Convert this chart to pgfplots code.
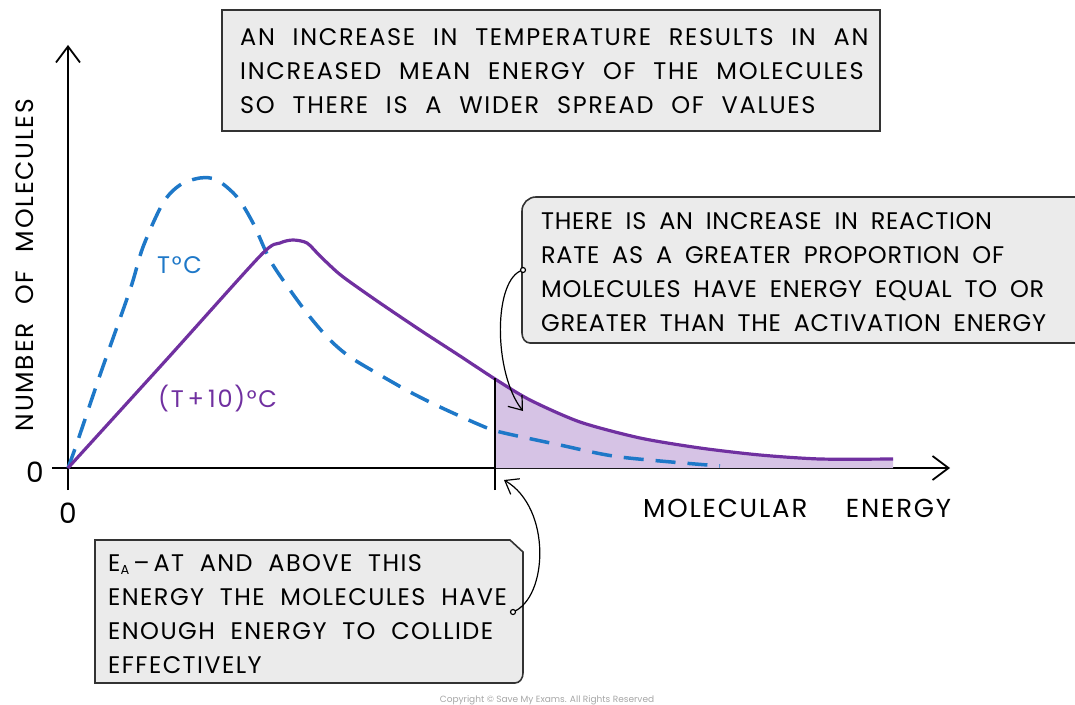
\documentclass[border=0pt]{standalone}
\usepackage{pgfplots}
\pgfplotsset{compat=1.18}
\usepackage{fontspec}
\setmainfont{Poppins}[WordSpace=2.2, LetterSpace=7]
\newfontfamily\rfont{Poppins}[WordSpace=1.8, LetterSpace=3]
\newfontfamily\bfont{Poppins}[WordSpace=2.0, LetterSpace=6]
\newfontfamily\plainfont{Poppins}
\usetikzlibrary{arrows.meta}
\definecolor{tblue}{HTML}{1E78C8}
\definecolor{tpurple}{HTML}{7030A0}
\definecolor{pfill}{HTML}{D6C3E5}
\definecolor{boxfill}{HTML}{EBEBEB}
\definecolor{boxdraw}{HTML}{333333}
\newcommand{\txt}{\fontsize{24}{34}\selectfont}
\newcommand{\rtxt}{\rfont\fontsize{24}{34}\selectfont}
\newcommand{\btxt}{\bfont\fontsize{24}{34}\selectfont}
\begin{document}
\begin{tikzpicture}
\begin{axis}[name=ax, x=1pt, y=1pt, xmin=-16, xmax=882, ymin=-22, ymax=423,
  axis lines=middle, xtick=\empty, ytick=\empty, clip=false,
  axis line style={line width=1.8pt, black, -{Straight Barb[length=16pt,width=24pt,line width=1.8pt]}}]
% bounding coordinates (full image)
\coordinate (TL) at (axis cs:-68,468);
\coordinate (BR) at (axis cs:1007,-236);
% shaded area beyond activation energy
\addplot[draw=none, fill=pfill, smooth, tension=0.5] coordinates {
 (427,89) (462,68) (512,46) (572,30) (632,20) (692,13) (752,9) (825,9)} \closedcycle;
% T curve (dashed blue)
\addplot[tblue, line width=3.5pt, smooth, tension=0.5, dash pattern=on 20pt off 12pt] coordinates {
 (0,0) (9,25) (32,93) (62,178) (75,221) (95,265) (112,283) (132,290) (149,288) (169,271)
 (185,245) (202,208) (222,178) (242,151) (262,128) (282,111) (312,93) (342,76) (372,61)
 (412,43) (432,36) (492,23) (552,11) (652,2)};
% (T+10) curve (solid purple)
\addplot[tpurple, line width=3.2pt, smooth, tension=0.45] coordinates {
 (0,0) (100,110) (193,213) (212,225) (225,228) (239,225) (252,212) (269,196) (282,186)
 (312,165) (352,138) (392,112) (427,89) (462,68) (512,46) (572,30) (632,20)
 (692,13) (752,9) (825,9)};
% activation energy line
\draw[black, line width=1.3pt] (axis cs:427,-22) -- (axis cs:427,90);
% axis labels
\node[font=\fontsize{25}{30}\selectfont, anchor=center, rotate=90] at (axis cs:-43,203) {NUMBER OF MOLECULES};
\node[font=\fontsize{26}{30}\selectfont, anchor=base west, inner sep=0] at (axis cs:575,-49) {MOLECULAR\ \ ENERGY};
\node[font=\fontsize{28}{30}\selectfont, anchor=center] at (axis cs:-33,-4) {0};
\node[font=\fontsize{28}{30}\selectfont, anchor=center] at (axis cs:0,-45) {0};
% curve labels
\node[font=\txt, text=tblue, anchor=base west, inner sep=0] at (axis cs:89,195) {T°C};
\node[font=\txt, text=tpurple, anchor=base west, inner sep=0] at (axis cs:90,61) {(T\,+\,10)°C};
% top box
\draw[boxdraw, line width=1.6pt, fill=boxfill] (axis cs:154,458) rectangle (axis cs:812,337);
\node[font=\txt, anchor=base west, inner sep=0] at (axis cs:172,422) {AN INCREASE IN TEMPERATURE RESULTS IN AN};
\node[font=\txt, anchor=base west, inner sep=0] at (axis cs:172,388) {INCREASED MEAN ENERGY OF THE MOLECULES};
\node[font=\txt, anchor=base west, inner sep=0] at (axis cs:172,354) {SO THERE IS A WIDER SPREAD OF VALUES};
% right box
\draw[boxdraw, line width=1.6pt, fill=boxfill] (axis cs:1020,271) -- (axis cs:468,271)
  to[out=180,in=90] (axis cs:454,257) -- (axis cs:454,135) to[out=-90,in=180] (axis cs:462,125) -- (axis cs:1020,125);
\node[font=\rtxt, anchor=base west, inner sep=0] at (axis cs:473,239) {THERE IS AN INCREASE IN REACTION};
\node[font=\rtxt, anchor=base west, inner sep=0] at (axis cs:473,205) {RATE AS A GREATER PROPORTION OF};
\node[font=\rtxt, anchor=base west, inner sep=0] at (axis cs:473,171) {MOLECULES HAVE ENERGY EQUAL TO OR};
\node[font=\rtxt, anchor=base west, inner sep=0] at (axis cs:473,137) {GREATER THAN THE ACTIVATION ENERGY};
% bottom box
\draw[boxdraw, line width=1.6pt, fill=boxfill] (axis cs:27,-72) -- (axis cs:442,-72)
  -- (axis cs:455,-84) -- (axis cs:455,-205) to[out=-90,in=0] (axis cs:447,-215) -- (axis cs:27,-215) -- cycle;
\node[font=\btxt, anchor=base west, inner sep=0] at (axis cs:40,-103) {E\raisebox{-0.15em}{\fontsize{13}{13}\selectfont A}\,–\,AT AND ABOVE THIS};
\node[font=\btxt, anchor=base west, inner sep=0] at (axis cs:40,-137) {ENERGY THE MOLECULES HAVE};
\node[font=\btxt, anchor=base west, inner sep=0] at (axis cs:40,-171) {ENOUGH ENERGY TO COLLIDE};
\node[font=\btxt, anchor=base west, inner sep=0] at (axis cs:40,-205) {EFFECTIVELY};
% connector arrows
\draw[black, line width=1.2pt, -{Straight Barb[length=12pt,width=18pt,line width=1.2pt]}]
  (axis cs:455,198) .. controls (axis cs:425,190) and (axis cs:425,95) .. (axis cs:455,57);
\draw[black, line width=1.2pt, fill=white] (axis cs:455,198) circle[radius=2.5pt];
\draw[black, line width=1.2pt, -{Straight Barb[length=12pt,width=18pt,line width=1.2pt]}]
  (axis cs:445,-144) .. controls (axis cs:480,-130) and (axis cs:484,-40) .. (axis cs:436,-12);
\draw[black, line width=1.2pt, fill=white] (axis cs:445,-144) circle[radius=2.5pt];
% copyright
\node[font=\plainfont\fontsize{9}{10}\selectfont, text=gray!70, anchor=center] at (axis cs:479,-232) {Copyright © Save My Exams. All Rights Reserved};
\end{axis}
\pgfresetboundingbox
\useasboundingbox (TL) rectangle (BR);
\end{tikzpicture}
\end{document}
